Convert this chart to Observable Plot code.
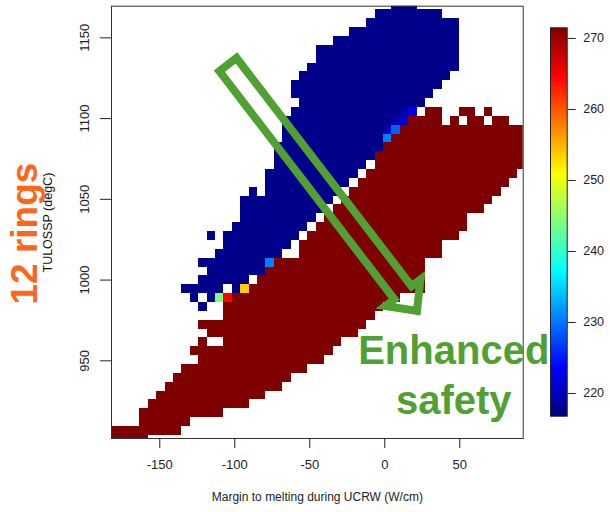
<!DOCTYPE html>
<html><head><meta charset="utf-8">
<script src="https://cdn.jsdelivr.net/npm/d3@7"></script>
<script src="https://cdn.jsdelivr.net/npm/@observablehq/plot@0.6"></script>
<style>
body{margin:0;background:#fff;}
#wrap{position:relative;width:610px;height:512px;}
#wrap svg{position:absolute;top:0;}
</style></head><body><div id="wrap"></div>
<script>
// grid of cells (column j, row i counted from the top)
const xBinStart = -185.6, xBinWidth = 5.6;
const yBinTop = 1172.8, yBinHeight = 5.49;
// value codes found in the picture
const codes      = ["B",   "a",   "b",   "c",   "d",   "e",   "g",   "y",   "r",   "R"];
const codeValues = [217.4, 219.1, 220.9, 222.7, 228.8, 230.5, 244.2, 253.7, 264.7, 271.5];
// runs per row: [firstColumn, lastColumn, code]
const rowRuns = [
 [[34,36,"B"]],
 [[32,39,"B"]],
 [[31,41,"B"]],
 [[29,41,"B"]],
 [[27,41,"B"]],
 [[25,41,"B"]],
 [[25,41,"B"]],
 [[24,41,"B"]],
 [[23,40,"B"]],
 [[22,39,"B"]],
 [[22,38,"B"]],
 [[23,37,"B"]],
 [[22,34,"B"],[35,35,"a"],[36,36,"c"],[38,39,"R"],[42,43,"R"],[45,45,"R"]],
 [[21,33,"B"],[34,34,"a"],[35,35,"b"],[36,39,"R"],[41,41,"R"],[43,44,"R"],[46,47,"R"]],
 [[21,32,"B"],[33,33,"a"],[34,34,"d"],[35,49,"R"]],
 [[21,32,"B"],[33,33,"e"],[34,49,"R"]],
 [[20,32,"B"],[33,49,"R"]],
 [[20,31,"B"],[32,49,"R"]],
 [[20,30,"B"],[32,49,"R"]],
 [[19,29,"B"],[31,48,"R"]],
 [[19,28,"B"],[30,47,"R"]],
 [[17,17,"B"],[19,27,"B"],[29,46,"R"]],
 [[16,26,"B"],[28,45,"R"]],
 [[16,25,"B"],[27,44,"R"]],
 [[16,24,"B"],[26,42,"R"]],
 [[15,23,"B"],[25,42,"R"]],
 [[12,12,"B"],[14,22,"B"],[24,41,"R"]],
 [[14,21,"B"],[23,39,"R"]],
 [[13,20,"B"],[23,39,"R"]],
 [[11,18,"B"],[19,19,"e"],[20,37,"R"]],
 [[12,18,"B"],[19,37,"R"]],
 [[11,16,"B"],[18,37,"R"]],
 [[9,13,"B"],[15,15,"B"],[16,16,"y"],[17,37,"R"]],
 [[10,10,"B"],[12,12,"B"],[13,13,"g"],[14,14,"r"],[15,34,"R"]],
 [[11,11,"B"],[14,32,"R"]],
 [[14,31,"R"]],
 [[11,30,"R"]],
 [[12,29,"R"]],
 [[11,11,"R"],[14,27,"R"]],
 [[10,26,"R"]],
 [[11,25,"R"]],
 [[9,23,"R"]],
 [[8,21,"R"]],
 [[7,20,"R"]],
 [[6,18,"R"]],
 [[5,16,"R"]],
 [[4,13,"R"]],
 [[4,9,"R"]],
 [[0,8,"R"]],
 [[0,4,"R"]]
];
const xDomain = [-182.2, 92.3];
const yDomain = [901.9, 1169.6];
const xTicks = [-150, -100, -50, 0, 50];
const yTicks = [950, 1000, 1050, 1100, 1150];
const colorTicks = [220, 230, 240, 250, 260, 270];
const colorLimits = [216.8, 271.5];
const jetColors = ["#00007F","#0000FF","#007FFF","#00FFFF","#7FFF7F","#FFFF00","#FF7F00","#FF0000","#7F0000"];
// hollow arrow outline (data units)
const arrowX = [-110.27, 6.4, 0.47, 21.47, 23.8, 17.85, -98.87];
const arrowY = [1129.38, 988.08, 983.93, 980.87, 1000.4, 996.25, 1137.55];
const xTitle = "Margin to melting during UCRW (W/cm)";
const yTitle = "TULOSSP (degC)";
const notes = [
  {text: "12 rings", x: -239.7, y: 1028.8},
  {text: "Enhanced\nsafety", x: 46.0, y: 916.8}
];

const green = "#50A032";
const orange = "#FF661A";
const font = "'Liberation Sans', Arial, Helvetica, sans-serif";
const plain = d => String(d);

const cells = [];
rowRuns.forEach((runs, i) => runs.forEach(([a, b, c]) => {
  cells.push({
    x1: xBinStart + a * xBinWidth,
    x2: xBinStart + (b + 1) * xBinWidth,
    y2: yBinTop - i * yBinHeight,
    y1: yBinTop - (i + 1) * yBinHeight,
    v: codeValues[codes.indexOf(c)]
  });
}));
const jetDomain = jetColors.map((_, k) => colorLimits[0] + k * (colorLimits[1] - colorLimits[0]) / (jetColors.length - 1));
const colorScale = {type: "linear", domain: jetDomain, range: jetColors, interpolate: "rgb", clamp: true};
const arrow = arrowX.map((x, k) => ({x, y: arrowY[k]}));

const bar = Plot.plot({
  width: 70, height: 512,
  marginLeft: 10, marginRight: 43.3, marginTop: 27.3, marginBottom: 96.3,
  style: {fontFamily: font, fontSize: "12.5px", color: "#222", background: "transparent"},
  x: {domain: [0, 1], axis: null},
  y: {domain: colorLimits, axis: null},
  color: colorScale,
  marks: [
    Plot.raster({x1: 0, x2: 1, y1: colorLimits[0], y2: colorLimits[1], width: 1, height: 400, fill: (x, y) => y}),
    Plot.frame({stroke: "#222"}),
    Plot.axisY({anchor: "right", ticks: colorTicks, tickFormat: plain, tickSize: 8, tickPadding: 8, label: null, fontSize: 12.5})
  ]
});
bar.style.left = "540px";

const main = Plot.plot({
  width: 610, height: 512,
  marginLeft: 111, marginRight: 87.3, marginTop: 5.7, marginBottom: 74,
  style: {fontFamily: font, fontSize: "13px", color: "#222", background: "transparent", overflow: "visible"},
  x: {domain: xDomain},
  y: {domain: yDomain},
  color: colorScale,
  marks: [
    Plot.rect(cells, {x1: "x1", x2: "x2", y1: "y1", y2: "y2", fill: "v", clip: true, shapeRendering: "crispEdges"}),
    Plot.frame({stroke: "#333"}),
    Plot.axisX({ticks: xTicks, tickFormat: plain, tickSize: 10, tickPadding: 11, label: null, fontSize: 13}),
    Plot.axisY({ticks: yTicks, tickFormat: plain, tickSize: 11, tickPadding: 12, tickRotate: -90, label: null, fontSize: 13}),
    Plot.text([notes[0]], {x: "x", y: "y", text: "text", rotate: -90, fill: orange, fontSize: 37, fontWeight: "bold", textAnchor: "middle", lineAnchor: "middle"}),
    Plot.text([yTitle], {x: -222.2, y: 1035.6, text: d => d, rotate: -90, fontSize: 12.5, textAnchor: "middle", lineAnchor: "bottom", fill: "#111"}),
    Plot.text([xTitle], {x: (xDomain[0] + xDomain[1]) / 2, y: 862.9, text: d => d, fontSize: 12, textAnchor: "middle", lineAnchor: "bottom", fill: "#222"}),
    Plot.line(arrow, {x: "x", y: "y", curve: "linear-closed", stroke: green, strokeWidth: 8, strokeLinejoin: "miter", strokeMiterlimit: 10}),
    Plot.text([notes[1]], {x: "x", y: "y", text: "text", fill: green, fontSize: 40, fontWeight: "bold", textAnchor: "middle", lineAnchor: "bottom", lineHeight: 1.25})
  ]
});
const wrap = document.getElementById("wrap");
wrap.append(bar, main);
</script></body></html>
